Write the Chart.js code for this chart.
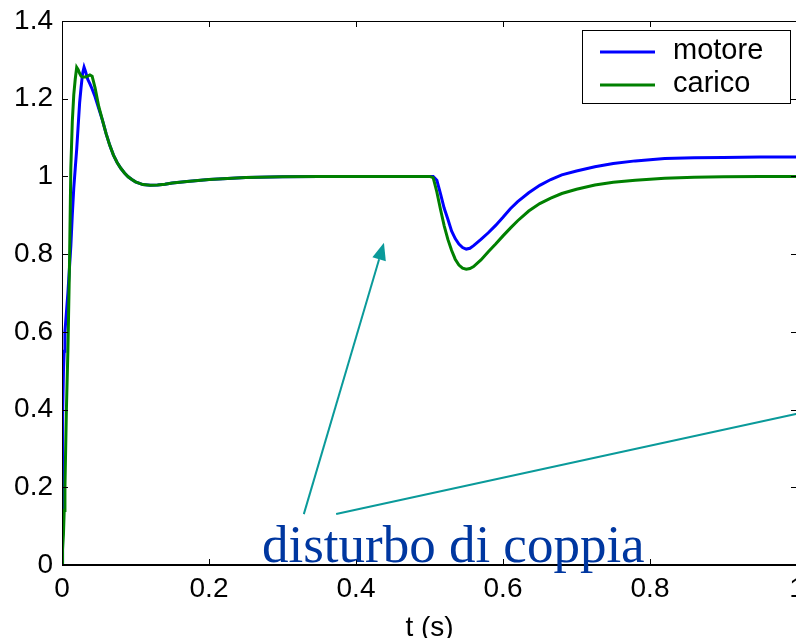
<!DOCTYPE html>
<html>
<head>
<meta charset="utf-8">
<script src="https://cdn.jsdelivr.net/npm/chart.js@4.4.1/dist/chart.umd.min.js"></script>
<style>
  html, body { margin: 0; padding: 0; background: #fff; overflow: hidden; }
  .graph { position: relative; width: 820px; height: 660px; }
</style>
</head>
<body>
<div class="graph"><canvas id="myChart"></canvas></div>
<script>
// time axis (s)
const tempo = [
  0, 0.0005, 0.001, 0.002, 0.003, 0.004, 0.006, 0.008,
  0.010, 0.012, 0.014, 0.016, 0.018, 0.020, 0.022, 0.024, 0.026, 0.028, 0.030,
  0.032, 0.035, 0.038, 0.041, 0.045,
  0.050, 0.055, 0.060, 0.065, 0.070, 0.075, 0.080, 0.085, 0.090, 0.095, 0.100,
  0.110, 0.120, 0.130, 0.140, 0.150, 0.170, 0.200, 0.250, 0.300, 0.350, 0.400, 0.450, 0.500,
  0.505, 0.510, 0.515, 0.520, 0.525, 0.530, 0.535, 0.540, 0.545, 0.550, 0.555, 0.560,
  0.570, 0.580, 0.590, 0.600, 0.610, 0.620,
  0.635, 0.650, 0.665, 0.680, 0.700, 0.725, 0.750, 0.780, 0.820, 0.860, 0.900, 0.950, 1.000
];
const motore = [
  0, 0.15, 0.38, 0.50, 0.55, 0.60, 0.65, 0.70,
  0.76, 0.82, 0.90, 0.97, 1.02, 1.07, 1.13, 1.19, 1.23, 1.265, 1.281,
  1.27, 1.25, 1.238, 1.225, 1.205,
  1.175, 1.145, 1.11, 1.08, 1.055, 1.036, 1.021, 1.009, 0.999, 0.992, 0.986,
  0.979, 0.977, 0.978, 0.980, 0.983, 0.987, 0.992, 0.997, 0.999, 1.0, 1.0, 1.0, 1.0,
  1.0, 0.99, 0.955, 0.918, 0.89, 0.86, 0.84, 0.826, 0.817, 0.813, 0.815, 0.822,
  0.838, 0.855, 0.874, 0.895, 0.917, 0.935,
  0.958, 0.977, 0.992, 1.004, 1.014, 1.025, 1.033, 1.040, 1.046, 1.048, 1.049, 1.050, 1.050
];
const carico = [
  0, 0.02, 0.04, 0.08, 0.14, 0.20, 0.40, 0.55,
  0.75, 1.02, 1.14, 1.21, 1.25, 1.281, 1.275, 1.265, 1.258, 1.256, 1.256,
  1.256, 1.258, 1.261, 1.258, 1.228,
  1.18, 1.145, 1.11, 1.08, 1.055, 1.036, 1.021, 1.009, 0.999, 0.992, 0.986,
  0.979, 0.977, 0.978, 0.980, 0.983, 0.987, 0.992, 0.997, 0.999, 1.0, 1.0, 1.0, 1.0,
  0.997, 0.96, 0.915, 0.873, 0.838, 0.81, 0.787, 0.772, 0.764, 0.761, 0.763, 0.768,
  0.785, 0.806, 0.826, 0.847, 0.867, 0.886,
  0.911, 0.930, 0.944, 0.956, 0.967, 0.978, 0.985, 0.990, 0.995, 0.998, 0.999, 1.0, 1.0
];
const xTicks = [0, 0.2, 0.4, 0.6, 0.8, 1];
const yTicks = [0, 0.2, 0.4, 0.6, 0.8, 1, 1.2, 1.4];
const seriesNames = ['motore', 'carico'];
const seriesColors = ['#0000ff', '#008000'];
const xTitle = 't (s)';
const noteText = 'disturbo di coppia';

const font = "'Liberation Sans', Arial, Helvetica, sans-serif";
const fmt = v => String(Math.round(v * 10) / 10);

// annotation, in data units
const note = {
  text: [0.272, 0.008],
  arrowFrom: [0.329, 0.131],
  arrowTo: [0.438, 0.829],
  lineFrom: [0.373, 0.131],
  lineTo: [1.0, 0.389]
};

const boxPlugin = {
  id: 'boxPlugin',
  afterDraw(chart) {
    const { ctx, chartArea: a, scales: { x, y } } = chart;
    ctx.save();
    // frame
    ctx.strokeStyle = '#000';
    ctx.lineWidth = 1;
    ctx.strokeRect(a.left + 0.5, a.top + 0.5, a.right - a.left, a.bottom - a.top);
    ctx.lineWidth = 2;
    ctx.beginPath();
    ctx.moveTo(a.left, a.bottom);
    ctx.lineTo(a.right, a.bottom);
    ctx.stroke();
    // inward ticks
    ctx.lineWidth = 1;
    ctx.beginPath();
    xTicks.forEach(v => {
      const px = Math.round(x.getPixelForValue(v)) + 0.5;
      ctx.moveTo(px, a.bottom); ctx.lineTo(px, a.bottom - 6);
      ctx.moveTo(px, a.top); ctx.lineTo(px, a.top + 6);
    });
    yTicks.forEach(v => {
      const py = Math.round(y.getPixelForValue(v)) + 0.5;
      ctx.moveTo(a.left, py); ctx.lineTo(a.left + 6, py);
      ctx.moveTo(a.right, py); ctx.lineTo(a.right - 6, py);
    });
    ctx.stroke();

    // annotation
    const P = p => [x.getPixelForValue(p[0]), y.getPixelForValue(p[1])];
    ctx.strokeStyle = '#0a9a9a';
    ctx.fillStyle = '#0a9a9a';
    ctx.lineWidth = 2;
    const [x1, y1] = P(note.arrowFrom);
    const [x2, y2] = P(note.arrowTo);
    const ang = Math.atan2(y2 - y1, x2 - x1);
    const bx = x2 - 17 * Math.cos(ang), by = y2 - 17 * Math.sin(ang);
    ctx.beginPath();
    ctx.moveTo(x1, y1); ctx.lineTo(bx, by);
    ctx.stroke();
    ctx.beginPath();
    ctx.moveTo(x2, y2);
    ctx.lineTo(bx + 7 * Math.sin(ang), by - 7 * Math.cos(ang));
    ctx.lineTo(bx - 7 * Math.sin(ang), by + 7 * Math.cos(ang));
    ctx.closePath();
    ctx.fill();
    const [l1x, l1y] = P(note.lineFrom);
    const [l2x, l2y] = P(note.lineTo);
    ctx.beginPath();
    ctx.moveTo(l1x, l1y); ctx.lineTo(l2x, l2y);
    ctx.stroke();
    const [tx, ty] = P(note.text);
    ctx.fillStyle = '#0037a0';
    ctx.font = "53px 'Liberation Serif', 'Times New Roman', serif";
    ctx.textAlign = 'left';
    ctx.textBaseline = 'alphabetic';
    ctx.fillText(noteText, tx, ty);

    // legend
    ctx.fillStyle = '#fff';
    ctx.fillRect(582, 30, 208, 73);
    ctx.strokeStyle = '#000';
    ctx.lineWidth = 1;
    ctx.strokeRect(582.5, 30.5, 208, 73);
    ctx.font = '29px ' + font;
    chart.data.datasets.forEach((ds, i) => {
      const ly = 52 + i * 33;
      ctx.strokeStyle = ds.borderColor;
      ctx.lineWidth = 3;
      ctx.beginPath();
      ctx.moveTo(600, ly); ctx.lineTo(655, ly);
      ctx.stroke();
      ctx.fillStyle = '#000';
      ctx.fillText(ds.label, 673, ly + 7);
    });
    ctx.restore();
  }
};

const ctx = document.getElementById('myChart');

new Chart(ctx, {
  type: 'line',
  data: {
    datasets: [
      {
        label: seriesNames[0],
        data: tempo.map((t, i) => ({ x: t, y: motore[i] })),
        borderColor: seriesColors[0],
        borderWidth: 3,
        pointRadius: 0,
        tension: 0,
        order: 1
      },
      {
        label: seriesNames[1],
        data: tempo.map((t, i) => ({ x: t, y: carico[i] })),
        borderColor: seriesColors[1],
        borderWidth: 3,
        pointRadius: 0,
        tension: 0,
        order: 0
      }
    ]
  },
  options: {
    responsive: true,
    maintainAspectRatio: false,
    animation: false,
    layout: { padding: { top: 21, right: 23, left: 0, bottom: 0 } },
    plugins: { legend: { display: false }, tooltip: { enabled: false } },
    scales: {
      x: {
        type: 'linear',
        min: 0,
        max: 1,
        afterBuildTicks: s => { s.ticks = xTicks.map(v => ({ value: v })); },
        afterFit: s => { s.height = 95; },
        grid: { display: false, drawTicks: false },
        border: { display: false },
        ticks: { color: '#000', font: { size: 28, family: font }, padding: 7, maxRotation: 0, callback: fmt },
        title: { display: true, text: xTitle, color: '#000', font: { size: 28, family: font }, padding: { top: 0, bottom: 15 } }
      },
      y: {
        min: 0,
        max: 1.4,
        afterBuildTicks: s => { s.ticks = yTicks.map(v => ({ value: v })); },
        afterFit: s => { s.width = 62; },
        grid: { display: false, drawTicks: false },
        border: { display: false },
        ticks: { color: '#000', font: { size: 28, family: font, lineHeight: 0.8 }, padding: 9, callback: fmt }
      }
    }
  },
  plugins: [boxPlugin]
});
</script>
</body>
</html>
